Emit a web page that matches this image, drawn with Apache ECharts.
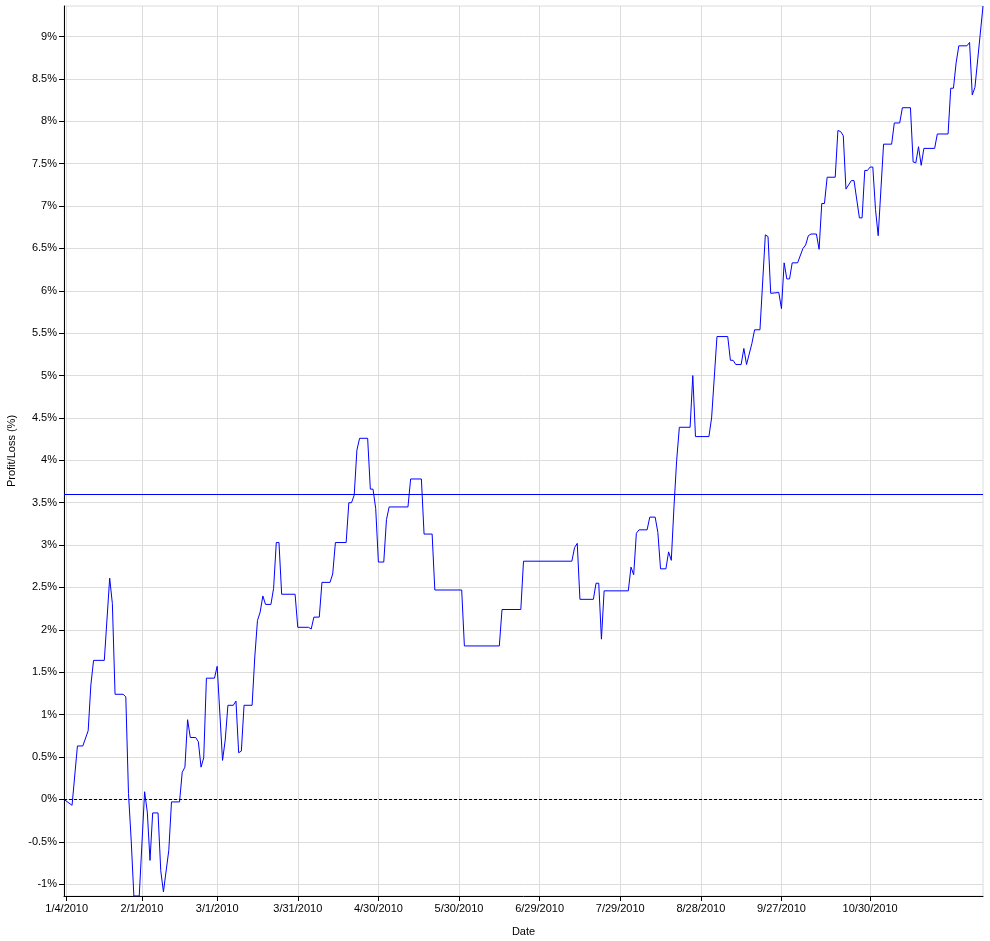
<!DOCTYPE html>
<html>
<head>
<meta charset="utf-8">
<script src="https://cdn.jsdelivr.net/npm/echarts@6/dist/echarts.min.js"></script>
<style>
html,body{margin:0;padding:0;background:#fff;}
#chart{width:990px;height:941px;}
</style>
</head>
<body>
<div id="chart"></div>
<script>
// ---- data ----
const dates = [
'2010-01-03','2010-01-06','2010-01-08','2010-01-10','2010-01-12','2010-01-13','2010-01-14','2010-01-18','2010-01-20','2010-01-21',
'2010-01-22','2010-01-25','2010-01-26','2010-01-27','2010-01-28','2010-01-29','2010-01-31','2010-02-02','2010-02-03','2010-02-04',
'2010-02-05','2010-02-07','2010-02-08','2010-02-09','2010-02-11','2010-02-12','2010-02-15','2010-02-16','2010-02-17','2010-02-18',
'2010-02-19','2010-02-21','2010-02-22','2010-02-23','2010-02-24','2010-02-25','2010-02-28','2010-03-01','2010-03-03','2010-03-04',
'2010-03-05','2010-03-07','2010-03-08','2010-03-09','2010-03-10','2010-03-11','2010-03-14','2010-03-15','2010-03-16','2010-03-17',
'2010-03-18','2010-03-19','2010-03-21','2010-03-22','2010-03-23','2010-03-24','2010-03-25','2010-03-30','2010-03-31','2010-04-04',
'2010-04-05','2010-04-06','2010-04-08','2010-04-09','2010-04-12','2010-04-13','2010-04-14','2010-04-18','2010-04-19','2010-04-20',
'2010-04-21','2010-04-22','2010-04-23','2010-04-26','2010-04-27','2010-04-28','2010-04-29','2010-04-30','2010-05-02','2010-05-03',
'2010-05-04','2010-05-11','2010-05-12','2010-05-16','2010-05-17','2010-05-20','2010-05-21','2010-05-31','2010-06-01','2010-06-14',
'2010-06-15','2010-06-22','2010-06-23','2010-07-11','2010-07-12','2010-07-13','2010-07-14','2010-07-19','2010-07-20','2010-07-21',
'2010-07-22','2010-07-23','2010-08-01','2010-08-02','2010-08-03','2010-08-04','2010-08-05','2010-08-08','2010-08-09','2010-08-11',
'2010-08-12','2010-08-13','2010-08-15','2010-08-16','2010-08-17','2010-08-18','2010-08-19','2010-08-20','2010-08-24','2010-08-25',
'2010-08-26','2010-08-31','2010-09-01','2010-09-03','2010-09-07','2010-09-08','2010-09-09','2010-09-10','2010-09-12','2010-09-13',
'2010-09-14','2010-09-16','2010-09-17','2010-09-19','2010-09-21','2010-09-22','2010-09-23','2010-09-26','2010-09-27','2010-09-28',
'2010-09-29','2010-09-30','2010-10-01','2010-10-03','2010-10-05','2010-10-06','2010-10-07','2010-10-08','2010-10-10','2010-10-11',
'2010-10-12','2010-10-13','2010-10-14','2010-10-17','2010-10-18','2010-10-19','2010-10-20','2010-10-21','2010-10-23','2010-10-24',
'2010-10-26','2010-10-27','2010-10-28','2010-10-29','2010-10-30','2010-10-31','2010-11-01','2010-11-02','2010-11-04','2010-11-07',
'2010-11-08','2010-11-10','2010-11-11','2010-11-14','2010-11-15','2010-11-16','2010-11-17','2010-11-18','2010-11-19','2010-11-23',
'2010-11-24','2010-11-28','2010-11-29','2010-11-30','2010-12-01','2010-12-02','2010-12-05','2010-12-06','2010-12-07','2010-12-08',
'2010-12-11'
];
const pnl = [
0,-0.07,0.63,0.63,0.81,1.35,1.64,1.64,2.61,2.31,
1.24,1.24,1.21,0.07,-0.48,-1.14,-1.14,0.09,-0.15,-0.72,
-0.16,-0.16,-0.84,-1.09,-0.60,-0.03,-0.03,0.32,0.38,0.94,
0.73,0.73,0.68,0.38,0.49,1.43,1.43,1.57,0.46,0.70,
1.11,1.11,1.16,0.55,0.57,1.11,1.11,1.68,2.11,2.21,
2.40,2.30,2.30,2.49,3.03,3.03,2.42,2.42,2.03,2.03,
2.01,2.15,2.15,2.56,2.56,2.66,3.03,3.03,3.50,3.50,
3.59,4.12,4.26,4.26,3.66,3.66,3.43,2.80,2.80,3.30,
3.45,3.45,3.78,3.78,3.13,3.13,2.47,2.47,1.81,1.81,
2.24,2.24,2.81,2.81,2.97,3.02,2.36,2.36,2.55,2.55,
1.89,2.46,2.46,2.74,2.65,3.14,3.18,3.18,3.33,3.33,
3.15,2.72,2.72,2.92,2.82,3.45,4.00,4.39,4.39,5.00,
4.28,4.28,4.50,5.46,5.46,5.18,5.18,5.13,5.13,5.32,
5.13,5.38,5.54,5.54,6.66,6.64,5.97,5.98,5.79,6.33,
6.14,6.14,6.33,6.33,6.50,6.54,6.65,6.67,6.67,6.49,
7.03,7.03,7.34,7.34,7.89,7.88,7.83,7.20,7.30,7.30,
6.86,6.86,7.42,7.42,7.46,7.46,6.96,6.65,7.73,7.73,
7.98,7.98,8.16,8.16,7.52,7.51,7.70,7.48,7.68,7.68,
7.85,7.85,8.39,8.39,8.69,8.89,8.89,8.93,8.31,8.40,
9.36
];
const meanPnl = 3.6;
const xTickDates = ['2010-01-04','2010-02-01','2010-03-01','2010-03-31','2010-04-30','2010-05-30','2010-06-29','2010-07-29','2010-08-28','2010-09-27','2010-10-30'];
const yTicks = [-1,-0.5,0,0.5,1,1.5,2,2.5,3,3.5,4,4.5,5,5.5,6,6.5,7,7.5,8,8.5,9];
const xStart = '2010-01-03';
const xEnd = '2010-12-11';
const yMin = -1.14;
const yMax = 9.36;

function ts(s){ const p = s.split('-').map(Number); return Date.UTC(p[0], p[1]-1, p[2]); }
const seriesData = dates.map((d,i)=>[ts(d), pnl[i]]);
const xTickVals = xTickDates.map(ts);

const chart = echarts.init(document.getElementById('chart'), null, {renderer:'canvas'});
const FONT = 'Liberation Sans, Arial, sans-serif';
chart.setOption({
  animation:false,
  backgroundColor:'#fff',
  grid:{left:64, right:7, top:6, bottom:45, show:true, borderColor:'#dcdcdc', borderWidth:1,
        containLabel:false, outerBoundsMode:'none'},
  xAxis:{
    type:'value',
    min: ts(xStart), max: ts(xEnd),
    name:'Date', nameLocation:'middle', nameGap:30,
    nameTextStyle:{fontFamily:FONT, fontSize:11, color:'#000'},
    axisLine:{show:true, onZero:false, lineStyle:{color:'#000', width:1}},
    axisTick:{show:true, length:5, lineStyle:{color:'#000'}, customValues: xTickVals},
    axisLabel:{
      customValues: xTickVals,
      fontFamily:FONT, fontSize:11, color:'#000', margin:7,
      formatter:function(v){ const d=new Date(v); return (d.getUTCMonth()+1)+'/'+d.getUTCDate()+'/'+d.getUTCFullYear(); }
    },
    splitLine:{show:true, lineStyle:{color:'#dcdcdc', width:1}}
  },
  yAxis:{
    type:'value',
    min:yMin, max:yMax,
    name:'Profit/Loss (%)', nameLocation:'middle', nameGap:46,
    nameTextStyle:{fontFamily:FONT, fontSize:11, color:'#000'},
    axisLine:{show:true, onZero:false, lineStyle:{color:'#000', width:1}},
    axisTick:{show:true, length:5, lineStyle:{color:'#000'}, customValues: yTicks},
    axisLabel:{customValues: yTicks, fontFamily:FONT, fontSize:11, color:'#000', margin:7,
      formatter:function(v){ return v + '%'; }},
    splitLine:{show:true, lineStyle:{color:'#dcdcdc', width:1}}
  },
  series:[{
    type:'line',
    data:seriesData,
    showSymbol:false,
    symbol:'none',
    lineStyle:{color:'#0000ff', width:1},
    markLine:{
      silent:true, symbol:'none', animation:false,
      label:{show:false},
      data:[
        {yAxis:meanPnl, lineStyle:{color:'#0000ff', width:1.2, type:'solid'}},
        {yAxis:0, lineStyle:{color:'#000', width:1, type:[3,2]}}
      ]
    }
  }]
});
</script>
</body>
</html>
